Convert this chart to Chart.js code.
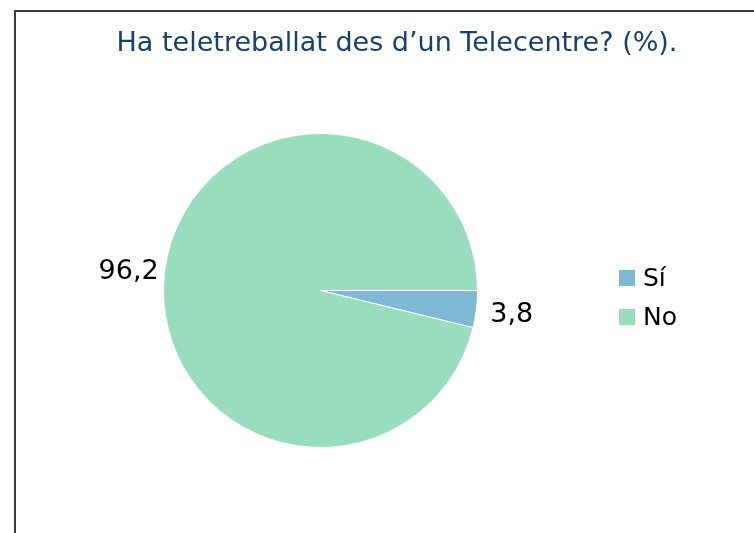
<!DOCTYPE html>
<html>
<head>
<meta charset="utf-8">
<script src="https://cdn.jsdelivr.net/npm/chart.js@4.4.1/dist/chart.umd.min.js"></script>
<style>
  html, body { margin: 0; padding: 0; background: #fff; }
  #wrap { position: relative; width: 754px; height: 533px; }
</style>
</head>
<body>
<div id="wrap"><canvas id="pieChart" width="754" height="533"></canvas></div>
<script>
// Daten
const categories = ['Sí', 'No'];
const values = [3.8, 96.2];
const valueLabels = ['3,8', '96,2'];
const sliceColors = ['#7fb8d5', '#99dcbe'];
const chartTitle = 'Ha teletreballat des d\u2019un Telecentre? (%).';

const FONT = '"DejaVu Sans", Verdana, sans-serif';

// Rahmen, Titel, Werte und Legende zeichnen
const decorPlugin = {
    id: 'decor',
    beforeDraw(chart) {
        const ctx = chart.ctx;
        ctx.save();
        ctx.strokeStyle = '#3a3a3a';
        ctx.lineWidth = 2;
        ctx.strokeRect(15, 11, 900, 700);
        ctx.restore();
    },
    afterDraw(chart) {
        const ctx = chart.ctx;
        ctx.save();
        // Titel
        ctx.font = '27px ' + FONT;
        ctx.fillStyle = '#17406d';
        ctx.textAlign = 'center';
        ctx.textBaseline = 'alphabetic';
        ctx.fillText(chartTitle, 397, 51);

        // Werte neben den Segmenten
        ctx.font = '27px ' + FONT;
        ctx.fillStyle = '#000';
        const meta = chart.getDatasetMeta(0);
        meta.data.forEach((arc, i) => {
            const mid = (arc.startAngle + arc.endAngle) / 2;
            const right = Math.cos(mid) >= 0;
            const r = arc.outerRadius + (right ? 14 : 6);
            const x = arc.x + Math.cos(mid) * r;
            const y = arc.y + Math.sin(mid) * r;
            ctx.textAlign = right ? 'left' : 'right';
            ctx.textBaseline = 'middle';
            ctx.fillText(valueLabels[i], x, y + (right ? 4 : 1));
        });

        // Legende
        ctx.font = '25px ' + FONT;
        ctx.textAlign = 'left';
        ctx.textBaseline = 'middle';
        categories.forEach((cat, i) => {
            const y = 278 + i * 39;
            ctx.fillStyle = sliceColors[i];
            ctx.fillRect(619, y - 8, 16, 16);
            ctx.fillStyle = '#000';
            ctx.fillText(cat, 643, y + 1);
        });
        ctx.restore();
    }
};

new Chart(document.getElementById('pieChart'), {
    type: 'pie',
    data: {
        labels: categories,
        datasets: [{
            data: values,
            backgroundColor: sliceColors,
            borderColor: '#ffffff',
            borderWidth: 1
        }]
    },
    options: {
        responsive: false,
        animation: false,
        rotation: 90,
        layout: {
            padding: { left: 163, right: 276, top: 133, bottom: 85 }
        },
        plugins: {
            legend: { display: false },
            title: { display: false },
            tooltip: { enabled: false }
        }
    },
    plugins: [decorPlugin]
});
</script>
</body>
</html>
